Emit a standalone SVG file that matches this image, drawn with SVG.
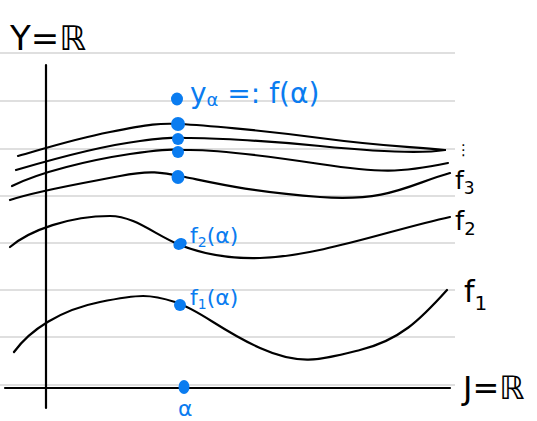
<svg xmlns="http://www.w3.org/2000/svg" width="537" height="421" viewBox="0 0 537 421">
<style>
.rule{stroke:#d4d4d4;stroke-width:1.6;fill:none}
.ink{stroke:#000;stroke-width:2.2;fill:none;stroke-linecap:round;stroke-linejoin:round}
.dot{fill:#0a7cf0}
.blue{fill:#0a7cf0;font-family:"DejaVu Sans","Liberation Sans",sans-serif}
.blk{fill:#000;font-family:"DejaVu Sans","Liberation Sans",sans-serif}
</style>
<rect width="537" height="421" fill="#fff"/>
<g id="rules">
<line class="rule" x1="0" y1="53" x2="455" y2="53"/>
<line class="rule" x1="0" y1="101" x2="455" y2="101"/>
<line class="rule" x1="0" y1="149" x2="455" y2="149"/>
<line class="rule" x1="0" y1="196" x2="455" y2="196"/>
<line class="rule" x1="0" y1="243" x2="455" y2="243"/>
<line class="rule" x1="0" y1="290" x2="455" y2="290"/>
<line class="rule" x1="0" y1="337" x2="455" y2="337"/>
<line class="rule" x1="0" y1="385" x2="455" y2="385"/>
</g>
<g id="axes">
<line class="ink" x1="46" y1="65" x2="46" y2="408"/>
<line class="ink" x1="5" y1="388" x2="450" y2="388"/>
</g>
<g id="curves">
<path class="ink" d="M18,156 C40,150 70,140 110,132 S160,123 180,124 S260,130 320,138 S400,146 445,150"/>
<path class="ink" d="M16,170 C50,160 100,146 140,141 S175,138 190,138 S260,140 320,146 S420,154 445,150"/>
<path class="ink" d="M12,186 C40,172 90,160 130,154 S170,150 190,150 S260,155 320,164 S400,173 448,163"/>
<path class="ink" d="M10,200 C40,190 90,182 120,176 S160,172 185,177 S250,192 320,197 S410,184 450,173"/>
<path class="ink" d="M10,247 C30,230 70,216 110,216 C135,216 155,235 180,245 C200,253 225,259 260,258 C320,256 390,230 450,217"/>
<path class="ink" d="M14,352 C30,330 60,310 100,302 S150,294 175,302 S220,330 260,348 S320,360 360,350 S420,320 447,290"/>
</g>
<g id="dots">
<ellipse class="dot" cx="177" cy="99" rx="6" ry="6.5"/>
<ellipse class="dot" cx="178" cy="124" rx="7" ry="7"/>
<ellipse class="dot" cx="178" cy="139" rx="6" ry="6"/>
<ellipse class="dot" cx="178" cy="152" rx="6" ry="6"/>
<ellipse class="dot" cx="178" cy="177" rx="6.5" ry="7"/>
<ellipse class="dot" cx="180" cy="244" rx="7" ry="5.5" transform="rotate(-30 180 244)"/>
<ellipse class="dot" cx="180" cy="305" rx="6" ry="6"/>
<ellipse class="dot" cx="184" cy="387" rx="5.5" ry="7"/>
</g>
<g id="labels">
<text class="blk" x="10" y="50" font-size="34">Y=ℝ</text>
<text class="blk" x="463" y="399" font-size="32">J=ℝ</text>
<text class="blue" x="190" y="103" font-size="28">y<tspan font-size="18" dy="3">α</tspan><tspan dy="-3"> =: f(α)</tspan></text>
<text class="blue" x="190" y="243" font-size="22">f<tspan font-size="14" dy="4">2</tspan><tspan dy="-4">(α)</tspan></text>
<text class="blue" x="190" y="305" font-size="22">f<tspan font-size="14" dy="4">1</tspan><tspan dy="-4">(α)</tspan></text>
<text class="blue" x="178" y="416" font-size="22">α</text>
<text class="blk" x="455" y="189" font-size="25">f<tspan font-size="17" dy="5">3</tspan></text>
<text class="blk" x="455" y="230" font-size="26">f<tspan font-size="18" dy="5">2</tspan></text>
<text class="blk" x="464" y="302" font-size="30">f<tspan font-size="20" dy="8">1</tspan></text>
<text class="blk" x="456" y="155" font-size="15">⋮</text>
</g>
</svg>
